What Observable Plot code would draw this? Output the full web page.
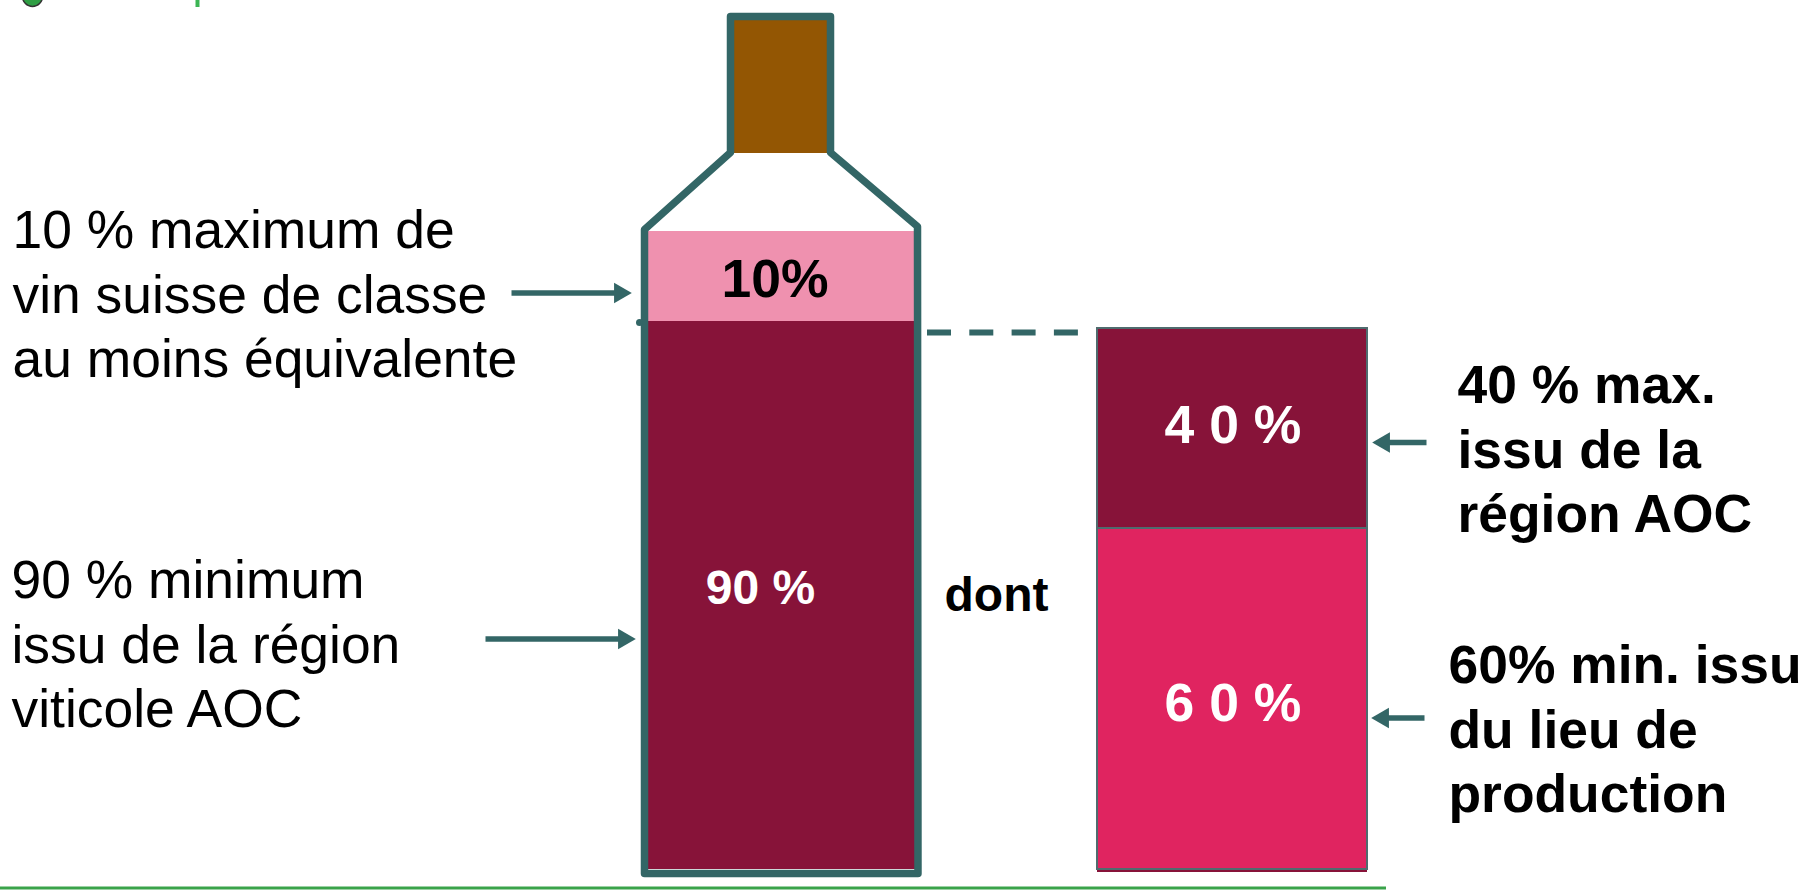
<!DOCTYPE html>
<html lang="fr">
<head>
<meta charset="utf-8">
<title>Vin AOC</title>
<style>html,body{margin:0;padding:0;background:#fff;overflow:hidden}svg{display:block}</style>
<script src="https://cdn.jsdelivr.net/npm/d3@7"></script>
<script src="https://cdn.jsdelivr.net/npm/@observablehq/plot@0.6"></script>
</head>
<body>
<div id="chart"></div>
<script>
// ---- values ----
const bottleShares = [90, 10];
const bottleValueLabels = ["90 %", "10%"];
const stackShares = [60, 40];
const stackValueLabels = ["6 0 %", "4 0 %"];
const leftNotes = ["10 % maximum de\nvin suisse de classe\nau moins équivalente", "90 % minimum\nissu de la région\nviticole AOC"];
const rightNotes = ["40 % max.\nissu de la\nrégion AOC", "60% min. issu\ndu lieu de\nproduction"];
const linkLabel = "dont";

// ---- palette ----
const teal = "#336666", wine = "#871339", pink = "#ef91af", rose = "#e02460", cork = "#935603", green = "#3aa34a";

// ---- drawing frame: the drawn bottle is not to scale, so the share axis is piecewise ----
const W = 1809, H = 890;
const stackOfBottle = 90 / 100;                 // the right stack breaks down the bottle's 90 %
const yKnots = [0, stackShares[0] * stackOfBottle, bottleShares[0], 100];
const yPixels = [869, 528, 321, 231];
const below = -(H - yPixels[0]) * (yKnots[1] - yKnots[0]) / (yPixels[0] - yPixels[1]);
const above = 100 + yPixels[3] * (yKnots[3] - yKnots[2]) / (yPixels[2] - yPixels[3]);
const shareToPage = d3.scaleLinear().domain([below, ...yKnots, above]).range([H, ...yPixels, 0]);
const py = d3.scaleLinear().domain([H, ...yPixels, 0]).range([below, ...yKnots, above]);   // page height -> share

// ---- derived rows ----
const bottleCols = {x1: () => 648, x2: () => 915};
const stackCols = {x1: () => 1097, x2: () => 1367};
let c = 0;
const bottleRows = bottleShares.map((v, i) => {
  const r = {y1: c, y2: c + v, fill: [wine, pink][i], label: bottleValueLabels[i], color: ["#fff", "#000"][i], size: [48, 53.5][i], tx: [760, 774.5][i], ty: [588, 279][i]};
  c += v; return r;
});
c = 0;
const stackRows = stackShares.map((v, i) => {
  const r = {y1: c * stackOfBottle, y2: (c + v) * stackOfBottle, fill: [rose, wine][i], label: stackValueLabels[i], ty: [703, 425][i]};
  c += v; return r;
});

const outline = [[644,873],[644,229],[730,152],[730,16],[830,16],[830,152],[917,226],[917.5,873],[644,873]].map(([x,y]) => ({x, y: py(y)}));
const arrows = [
  {from: 511, tip: 631, y: 292.5},
  {from: 485, tip: 635, y: 638.5},
  {from: 1426, tip: 1372, y: 442},
  {from: 1424, tip: 1371, y: 717.5}
].map(a => {
  const dir = Math.sign(a.tip - a.from);
  return {...a, dir, head: a.tip - dir * 11.5, end: a.tip - dir * 16, yv: py(a.y)};
});
const notesLeft = [
  {t: leftNotes[0], x: 12, y: 291.5},
  {t: leftNotes[1], x: 11, y: 641.5}
];
const notesRight = [
  {t: rightNotes[0], x: 1457, y: 446.5},
  {t: rightNotes[1], x: 1448, y: 726.5}
];
const font = "'Liberation Sans', Arial, sans-serif";

const chart = Plot.plot({
  width: W, height: H, margin: 0,
  style: {background: "#fff", fontFamily: font},
  x: {domain: [0, W], range: [0, W], axis: null},
  y: {transform: shareToPage, domain: [0, H], range: [0, H], axis: null},
  marks: [
    // logo remnants at the top, footer rule
    Plot.dot([{x: 32, y: py(-4)}], {x: "x", y: "y", r: 10, fill: "#2f9e44", stroke: "#333", strokeWidth: 1.5}),
    Plot.ruleX([197], {y1: () => py(0), y2: () => py(7), stroke: "#3cb554", strokeWidth: 4}),
    Plot.ruleY([py(887.5)], {x1: () => 0, x2: () => 1386, stroke: green, strokeWidth: 3}),
    // bottle
    Plot.rect([{}], {x1: () => 733, x2: () => 827, y1: () => py(153), y2: () => py(19), fill: cork}),
    Plot.rect(bottleRows, {...bottleCols, y1: "y1", y2: "y2", fill: "fill"}),
    Plot.line(outline, {x: "x", y: "y", stroke: teal, strokeWidth: 7.5, strokeLinejoin: "round", curve: "linear"}),
    Plot.dot([{x: 639, y: py(322)}], {x: "x", y: "y", r: 3.5, fill: teal}),
    // dashed link
    Plot.ruleY([py(332)], {x1: () => 927, x2: () => 1078, stroke: teal, strokeWidth: 6, strokeDasharray: "24 18.3"}),
    // right stack
    Plot.rect([{}], {...stackCols, y1: () => py(872), y2: () => py(860), fill: wine}),
    Plot.rect(stackRows.slice(0, 1), {...stackCols, y1: "y1", y2: "y2", fill: "fill", stroke: "#4f6b6e", strokeWidth: 2}),
    Plot.rect(stackRows.slice(1), {...stackCols, y1: "y1", y2: "y2", insetTop: 7, fill: "fill", stroke: "#4f6b6e", strokeWidth: 2}),
    // arrows
    Plot.link(arrows, {x1: "end", x2: "from", y1: "yv", y2: "yv", stroke: teal, strokeWidth: 5.5}),
    Plot.dot(arrows, {x: "head", y: "yv", symbol: "triangle", r: 7.6, rotate: d => d.dir * 90, fill: teal}),
    // values
    Plot.text(bottleRows, {x: "tx", y: d => py(d.ty), text: "label", fontSize: "size", fill: "color", textAnchor: "middle", fontWeight: "bold", fontFamily: font}),
    Plot.text(stackRows, {x: () => 1232.5, y: d => py(d.ty), text: "label", fontSize: 53.5, fill: "#fff", textAnchor: "middle", fontWeight: "bold", fontFamily: font}),
    Plot.text([linkLabel], {x: () => 996, y: () => py(595), text: d => d, fontSize: 48, fontWeight: "bold", fill: "#000", textAnchor: "middle", fontFamily: font}),
    // annotations
    Plot.text(notesLeft, {x: "x", y: d => py(d.y), text: "t", fontSize: 53.4, lineHeight: 1.2, fontWeight: "normal", fill: "#000", textAnchor: "start", fontFamily: font}),
    Plot.text(notesRight, {x: "x", y: d => py(d.y), text: "t", fontSize: 53.4, lineHeight: 1.2, fontWeight: "bold", fill: "#000", textAnchor: "start", fontFamily: font})
  ]
});
document.getElementById("chart").appendChild(chart);
</script>
</body>
</html>
